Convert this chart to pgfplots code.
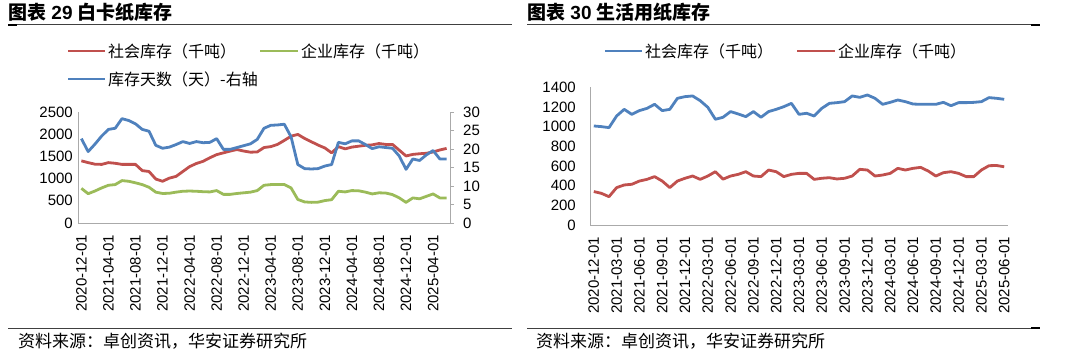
\documentclass[border=0pt]{standalone}
\usepackage{fontspec}
\setmainfont{Liberation Sans}
\newfontfamily\cjk{Noto Sans CJK SC}
\usepackage{pgfplots}
\usepackage{pgfplotstable}
\pgfplotsset{compat=1.18}
\definecolor{cred}{RGB}{192,80,77}
\definecolor{cgreen}{RGB}{155,187,89}
\definecolor{cblue}{RGB}{79,129,189}
\definecolor{axgray}{RGB}{170,170,170}

\pgfplotstableread{
i red green blue
0 1400 780 22.8
1 1360 660 19.3
2 1325 720 21.3
3 1320 790 23.5
4 1360 850 25.3
5 1345 865 25.6
6 1320 955 28.2
7 1320 940 27.7
8 1320 905 26.8
9 1180 865 25.3
10 1160 805 24.8
11 990 695 21.0
12 940 665 20.2
13 1010 670 20.5
14 1050 695 21.2
15 1160 715 22.0
16 1270 720 21.5
17 1340 715 22.0
18 1390 705 21.7
19 1470 700 21.8
20 1540 730 22.8
21 1580 645 19.9
22 1620 645 19.9
23 1655 665 20.4
24 1620 680 20.9
25 1595 695 21.4
26 1600 730 22.6
27 1700 850 25.6
28 1720 865 26.4
29 1770 868 26.5
30 1860 868 26.7
31 1955 790 23.3
32 1995 530 15.8
33 1905 475 14.7
34 1830 465 14.6
35 1755 470 14.7
36 1690 505 15.4
37 1580 525 15.8
38 1720 715 21.8
39 1670 700 21.4
40 1710 730 22.2
41 1730 725 22.2
42 1750 695 21.2
43 1760 655 20.1
44 1790 680 20.6
45 1770 675 20.4
46 1770 640 20.2
47 1640 565 18.1
48 1510 465 14.5
49 1545 565 17.3
50 1560 545 16.9
51 1570 600 18.4
52 1600 655 19.6
53 1645 565 17.3
54 1680 565 17.3
}\lefttab

\pgfplotstableread{
i soc ent
0 1007 340
1 1000 322
2 990 288
3 1108 380
4 1176 407
5 1125 414
6 1163 447
7 1186 464
8 1227 492
9 1163 447
10 1176 380
11 1288 447
12 1305 475
13 1312 498
14 1264 464
15 1197 498
16 1075 542
17 1095 466
18 1153 498
19 1129 515
20 1102 542
21 1153 498
22 1095 492
23 1153 559
24 1176 542
25 1203 492
26 1237 515
27 1125 525
28 1136 525
29 1108 464
30 1186 475
31 1237 481
32 1244 468
33 1254 475
34 1312 498
35 1298 566
36 1322 559
37 1288 498
38 1227 508
39 1247 525
40 1271 576
41 1254 559
42 1230 576
43 1227 586
44 1227 549
45 1227 498
46 1247 532
47 1213 542
48 1244 525
49 1244 492
50 1247 492
51 1254 559
52 1295 603
53 1288 605
54 1278 592
}\righttab

\pgfplotsset{
  common/.style={
    scale only axis,
    xmin=-0.5, xmax=54.5,
    axis line style={draw=axgray, line width=0.9pt, -},
    tick label style={font=\fontsize{15}{17}\selectfont},
    /pgf/number format/assume math mode=true,
    /pgf/number format/set thousands separator={},
  }
}

\begin{document}
\begin{tikzpicture}[x=1pt,y=1pt]
\useasboundingbox (0,-356) rectangle (1080,0);

% ---------- titles and rules ----------
\node[anchor=west, inner sep=0pt, font=\fontsize{19}{19}\selectfont\bfseries] at (8,-12)
  {{\cjk 图表} 29 {\cjk 白卡纸库存}};
\node[anchor=west, inner sep=0pt, font=\fontsize{19}{19}\selectfont\bfseries] at (527,-12)
  {{\cjk 图表} 30 {\cjk 生活用纸库存}};
\draw[line width=0.8pt, black!75] (8,-24.5) -- (512,-24.5);
\draw[line width=2pt, black] (8,-25) -- (17,-25);
\draw[line width=0.8pt, black!75] (527,-24.5) -- (1040,-24.5);
\draw[line width=2pt, black] (1031,-25) -- (1040,-25);

\draw[line width=0.8pt, black!75] (8,-328.5) -- (512,-328.5);
\draw[line width=0.8pt, black!75] (527,-328.5) -- (1040,-328.5);
\draw[line width=2pt, black] (1031,-328) -- (1040,-328);
\node[anchor=west, inner sep=0pt, font=\fontsize{17}{17}\selectfont\cjk] at (18,-341)
  {资料来源：卓创资讯，华安证券研究所};
\node[anchor=west, inner sep=0pt, font=\fontsize{17}{17}\selectfont\cjk] at (536,-341)
  {资料来源：卓创资讯，华安证券研究所};

% ---------- left legend ----------
\draw[cred, line width=2.8pt] (68,-51) -- (105,-51);
\node[anchor=west, inner sep=0pt, font=\fontsize{16}{16}\selectfont\cjk] at (108,-51) {社会库存（千吨）};
\draw[cgreen, line width=2.8pt] (260,-51) -- (298,-51);
\node[anchor=west, inner sep=0pt, font=\fontsize{16}{16}\selectfont\cjk] at (301,-51) {企业库存（千吨）};
\draw[cblue, line width=2.8pt] (68,-79) -- (105,-79);
\node[anchor=west, inner sep=0pt, font=\fontsize{16}{16}\selectfont\cjk] at (108,-79) {库存天数（天）-右轴};

% ---------- right legend ----------
\draw[cblue, line width=2.8pt] (605,-51) -- (642,-51);
\node[anchor=west, inner sep=0pt, font=\fontsize{16}{16}\selectfont\cjk] at (645,-51) {社会库存（千吨）};
\draw[cred, line width=2.8pt] (797,-51) -- (835,-51);
\node[anchor=west, inner sep=0pt, font=\fontsize{16}{16}\selectfont\cjk] at (838,-51) {企业库存（千吨）};

% ---------- left chart, primary axis ----------
\begin{axis}[common,
  at={(78pt,-223pt)}, anchor=south west,
  width=372pt, height=111pt,
  ymin=0, ymax=2500,
  axis x line*=bottom, axis y line*=left,
  ytick={0,500,...,2500},
  xtick={0,4,...,52},
  xticklabels={2020-12-01,2021-04-01,2021-08-01,2021-12-01,2022-04-01,2022-08-01,2022-12-01,2023-04-01,2023-08-01,2023-12-01,2024-04-01,2024-08-01,2024-12-01,2025-04-01},
  major tick length=0pt,
  yticklabel style={inner sep=0pt, anchor=east}, yticklabel shift=5pt,
  xticklabel style={rotate=90, anchor=east, inner sep=0pt}, xticklabel shift=12pt,
]
\addplot[cred, line width=2.8pt, line join=round] table[x=i, y=red]{\lefttab};
\addplot[cgreen, line width=2.8pt, line join=round] table[x=i, y=green]{\lefttab};
\end{axis}

% ---------- left chart, secondary axis ----------
\begin{axis}[common,
  at={(78pt,-223pt)}, anchor=south west,
  width=372pt, height=111pt,
  ymin=0, ymax=30,
  axis x line=none, axis y line*=right,
  ytick={0,5,...,30},
  tick align=outside, major tick length=4pt,
  tick style={draw=axgray, line width=0.9pt},
  yticklabel style={inner sep=0pt, anchor=west}, yticklabel shift=9pt,
]
\addplot[cblue, line width=2.8pt, line join=round] table[x=i, y=blue]{\lefttab};
\end{axis}

% ---------- right chart ----------
\begin{axis}[common,
  at={(590pt,-225pt)}, anchor=south west,
  width=418pt, height=137.7pt,
  ymin=0, ymax=1400,
  axis x line*=bottom, axis y line*=left,
  ytick={0,200,...,1400},
  xtick={0,3,...,54},
  xticklabels={2020-12-01,2021-03-01,2021-06-01,2021-09-01,2021-12-01,2022-03-01,2022-06-01,2022-09-01,2022-12-01,2023-03-01,2023-06-01,2023-09-01,2023-12-01,2024-03-01,2024-06-01,2024-09-01,2024-12-01,2025-03-01,2025-06-01},
  major tick length=0pt,
  yticklabel style={inner sep=0pt, anchor=east}, yticklabel shift=14pt,
  xticklabel style={rotate=90, anchor=east, inner sep=0pt}, xticklabel shift=12pt,
]
\addplot[cblue, line width=2.8pt, line join=round] table[x=i, y=soc]{\righttab};
\addplot[cred, line width=2.8pt, line join=round] table[x=i, y=ent]{\righttab};
\end{axis}
\end{tikzpicture}
\end{document}
